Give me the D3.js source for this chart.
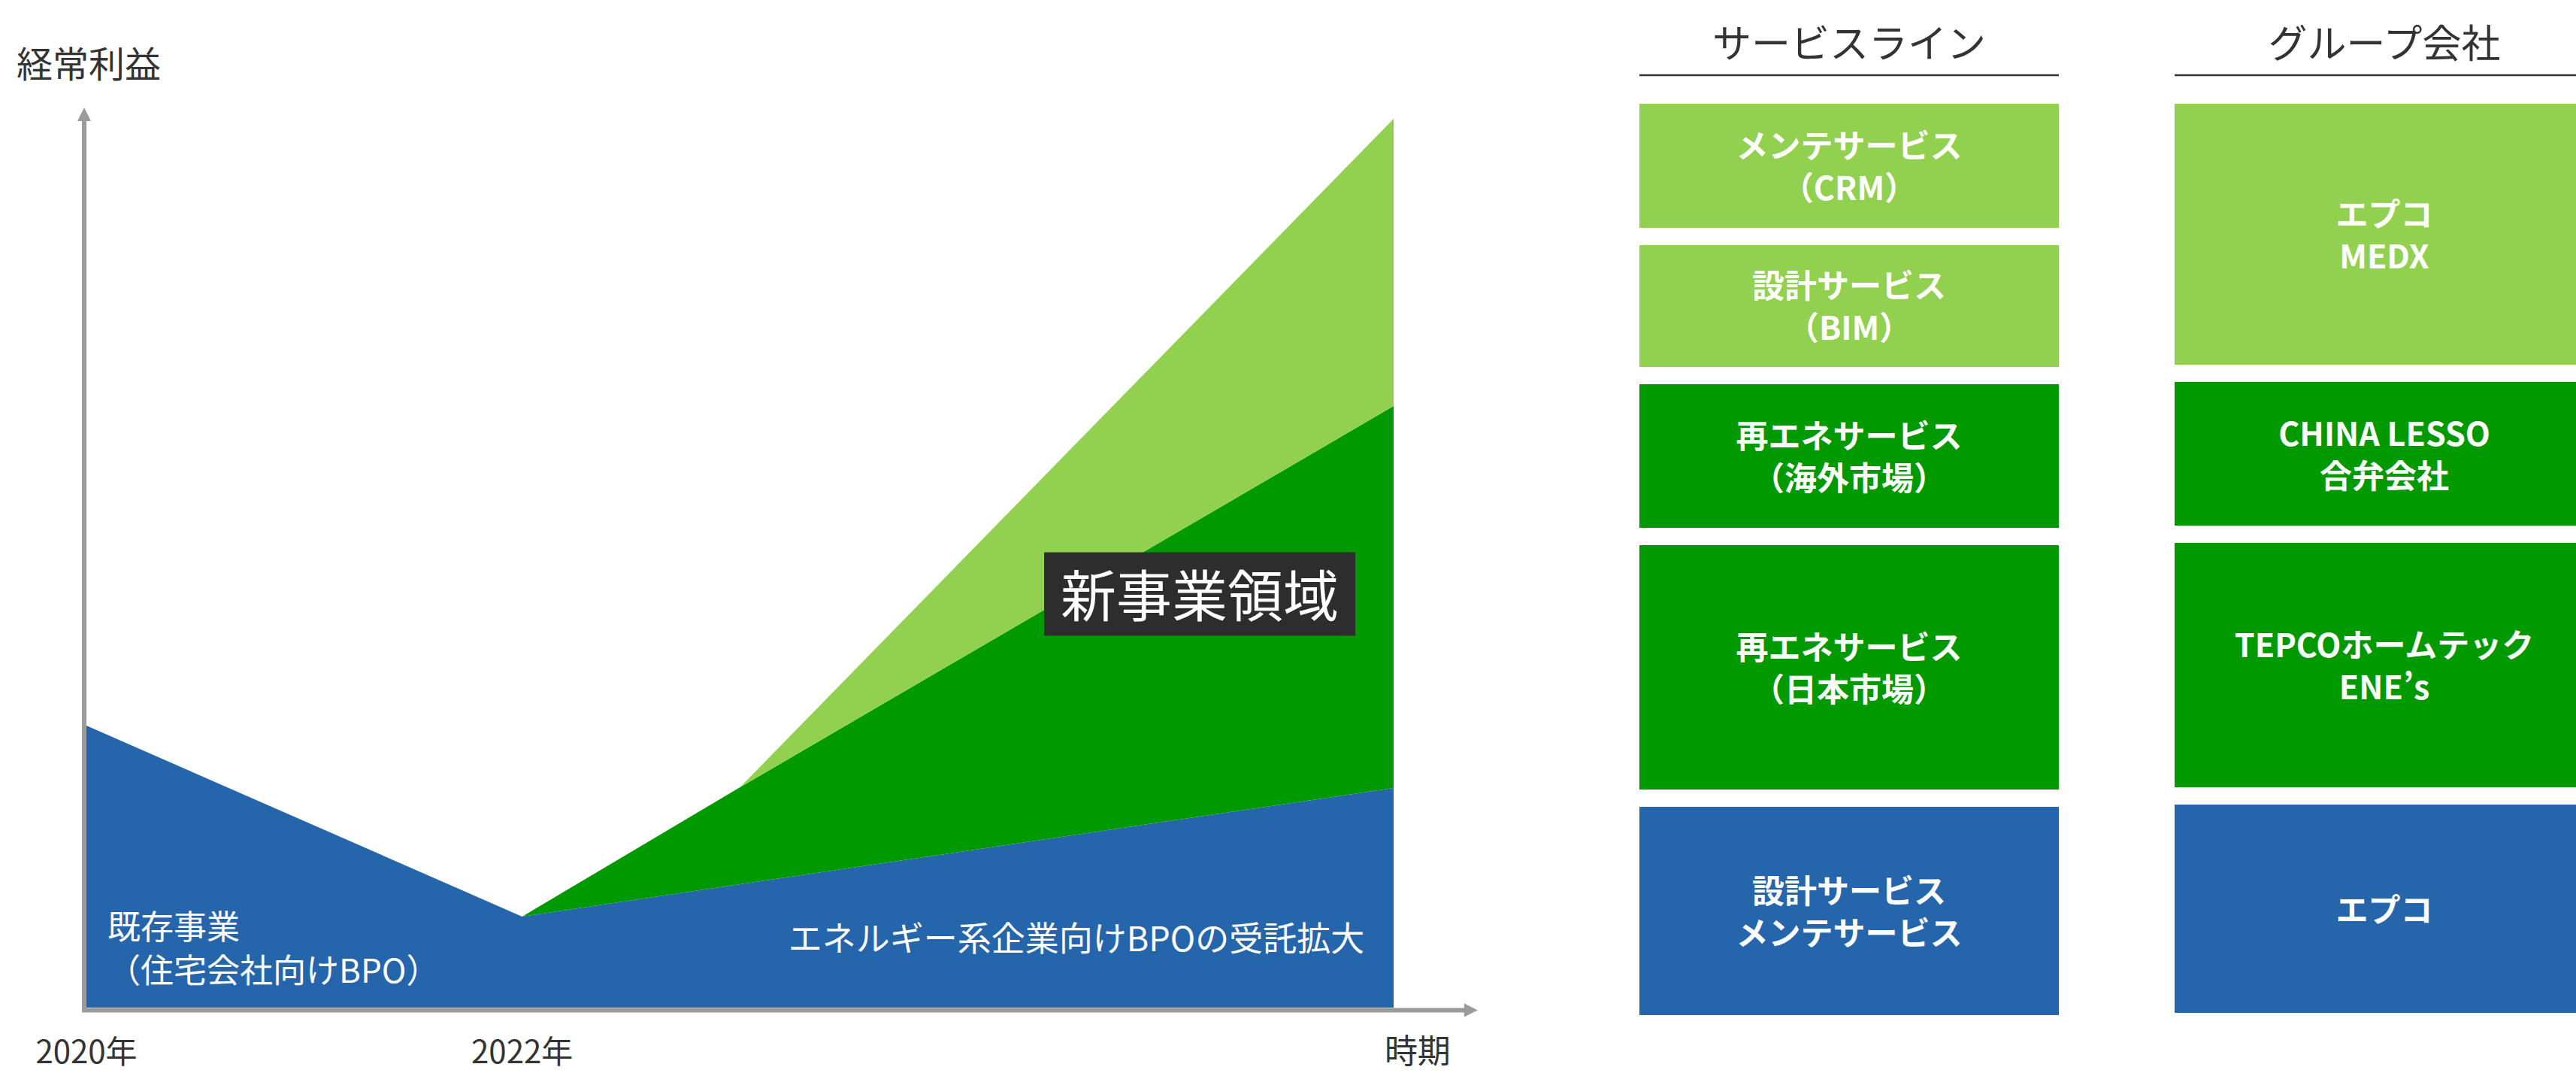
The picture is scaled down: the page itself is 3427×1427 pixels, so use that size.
<!DOCTYPE html>
<html lang="ja">
<head>
<meta charset="UTF-8">
<title>経常利益の推移イメージ</title>
<script src="https://cdn.jsdelivr.net/npm/d3@7"></script>
<style>
  body { margin: 0; background: #fff; }
  svg { display: block; font-family: "Noto Sans CJK JP", "Noto Sans", sans-serif; }
  .axis-line { stroke: #9b9b9b; stroke-width: 6; fill: none; }
  .axis-head { fill: #9b9b9b; }
  .dark { fill: #333; }
  .box-text { fill: #fff; font-weight: 700; font-size: 43px; text-anchor: middle; }
</style>
</head>
<body>
<svg id="chart" width="3427" height="1427"></svg>
<script>
// ---- left chart data (profit units) ----
var years      = [2020, 2022, 2023, 2026];
var existing   = [37.5, 12.1, 16.4, 29.2];   // 既存事業 + エネルギー系BPO
var renewable  = [0, 0, 12.9, 50.8];         // 再エネサービス
var newLines   = [0, 0, 0, 38.2];            // メンテ / 設計サービス
var seriesKeys = ["existing", "renewable", "newLines"];
var tickYears  = [2020, 2022];
var tickLabels = ["2020年", "2022年"];
var yTitle = "経常利益";
var xTitle = "時期";

// annotation texts, placed in data units
var labelExisting = ["既存事業", "（住宅会社向けBPO）"];
var labelEnergy = "エネルギー系企業向けBPOの受託拡大";
var labelNew = "新事業領域";

// ---- right panel data ----
var colHeads = ["サービスライン", "グループ会社"];
var serviceLabels = [["メンテサービス", "（CRM）"], ["設計サービス", "（BIM）"],
                     ["再エネサービス", "（海外市場）"], ["再エネサービス", "（日本市場）"],
                     ["設計サービス", "メンテサービス"]];
var serviceSizes = [16.5, 16.2, 19.1, 32.5, 27.7];
var serviceKinds = ["newLines", "newLines", "renewable", "renewable", "existing"];
var groupLabels = [["エプコ", "MEDX"], ["CHINA LESSO", "合弁会社"],
                   ["TEPCOホームテック", "ENE’s"], ["エプコ"]];
var groupSizes = [34.7, 19.1, 32.5, 27.7];
var groupKinds = ["newLines", "renewable", "renewable", "existing"];

var color = d3.scaleOrdinal().domain(seriesKeys).range(["#2565ab", "#009900", "#92d050"]);

var svg = d3.select("#chart");

//------------------------------------------------------------------
// scales
var x = d3.scaleLinear().domain([2020, 2026]).range([115, 1854]);
var y = d3.scaleLinear().domain([0, 120]).range([1340, 140]);
var xEnd = 2026.386, yEnd = 119.7;

//------------------------------------------------------------------
// stacked areas
var table = years.map(function (yr, i) {
  return { year: yr, existing: existing[i], renewable: renewable[i], newLines: newLines[i] };
});
var stacked = d3.stack().keys(seriesKeys)(table);

var area = d3.area()
  .x(function (d) { return x(d.data.year); })
  .y0(function (d) { return y(d[0]); })
  .y1(function (d) { return y(d[1]); });

svg.append("g").selectAll("path")
  .data(stacked)
  .enter().append("path")
  .attr("fill", function (d) { return color(d.key); })
  .attr("d", function (layer) {
    // drop leading points where the layer has not started yet
    var pts = layer.filter(function (d, j) {
      var v = d[1] - d[0];
      var next = layer[j + 1] ? layer[j + 1][1] - layer[j + 1][0] : 0;
      return v > 0 || next > 0;
    });
    return area(pts);
  });

//------------------------------------------------------------------
// axes with arrow heads
var ax = svg.append("g");
ax.append("line").attr("class", "axis-line")
  .attr("x1", x(2020) - 3).attr("x2", x(2020) - 3)
  .attr("y1", y(0) + 6).attr("y2", y(yEnd) + 17);
ax.append("path").attr("class", "axis-head")
  .attr("d", "M" + (x(2020) - 3) + "," + y(yEnd) + "l9,18h-18z");
ax.append("line").attr("class", "axis-line")
  .attr("x1", x(2020) - 6).attr("x2", x(xEnd) - 17)
  .attr("y1", y(0) + 3.5).attr("y2", y(0) + 3.5);
ax.append("path").attr("class", "axis-head")
  .attr("d", "M" + x(xEnd) + "," + (y(0) + 3.5) + "l-18,-9v18z");

ax.selectAll("text.tick")
  .data(tickYears)
  .enter().append("text")
  .attr("class", "tick dark")
  .attr("x", function (d) { return x(d); })
  .attr("y", y(0) + 74)
  .attr("text-anchor", "middle")
  .attr("font-size", 42)
  .text(function (d, i) { return tickLabels[i]; });

ax.append("text").attr("class", "dark")
  .attr("x", x(2026.11)).attr("y", y(0) + 74)
  .attr("text-anchor", "middle").attr("font-size", 44)
  .text(xTitle);

ax.append("text").attr("class", "dark")
  .attr("x", x(2020) - 93).attr("y", 103)
  .attr("font-size", 48)
  .text(yTitle);

//------------------------------------------------------------------
// labels inside the chart
svg.append("text")
  .attr("x", x(2020.097)).attr("y", y(9.1))
  .attr("fill", "#fff").attr("font-size", 44)
  .selectAll("tspan")
  .data(labelExisting)
  .enter().append("tspan")
  .attr("x", x(2020.097))
  .attr("dy", function (d, i) { return i ? 58 : 0; })
  .text(function (d) { return d; });

svg.append("text")
  .attr("x", x(2025.866)).attr("y", y(7.5))
  .attr("fill", "#fff").attr("font-size", 45)
  .attr("text-anchor", "end")
  .text(labelEnergy);

var nl = svg.append("g");
var nlText = nl.append("text")
  .attr("x", x(2025.11)).attr("y", y(55))
  .attr("dy", "0.4em")
  .attr("fill", "#fff").attr("font-size", 74)
  .attr("text-anchor", "middle")
  .text(labelNew);
var bb = nlText.node().getBBox();
nl.insert("rect", "text")
  .attr("x", bb.x - 22).attr("width", bb.width + 44)
  .attr("y", y(55) - 55.5).attr("height", 111)
  .attr("fill", "#2d2d2d");

//------------------------------------------------------------------
// right panel: service lines / group companies
var col = d3.scaleBand().domain(colHeads).range([2181, 3451]).paddingInner(0.2163);
var py = d3.scaleLinear().domain([0, 121.2]).range([138, 1350]);
var gap = 2.3;

function drawColumn(head, labels, sizes, kinds) {
  var g = svg.append("g");
  var x0 = col(head), w = col.bandwidth();
  g.append("text").attr("class", "dark")
    .attr("x", x0 + w / 2).attr("y", py(0) - 61)
    .attr("text-anchor", "middle").attr("font-size", 52)
    .text(head);
  g.append("line")
    .attr("x1", x0).attr("x2", x0 + w)
    .attr("y1", py(0) - 38).attr("y2", py(0) - 38)
    .attr("stroke", "#333").attr("stroke-width", 2.5);

  var start = 0;
  var boxes = sizes.map(function (s, i) {
    var b = { from: start, to: start + s, lines: labels[i], kind: kinds[i] };
    start += s + gap;
    return b;
  });

  var cell = g.selectAll("g.cell")
    .data(boxes)
    .enter().append("g").attr("class", "cell");
  cell.append("rect")
    .attr("x", x0).attr("width", w)
    .attr("y", function (d) { return py(d.from); })
    .attr("height", function (d) { return py(d.to) - py(d.from); })
    .attr("fill", function (d) { return color(d.kind); });
  cell.append("text").attr("class", "box-text")
    .selectAll("tspan")
    .data(function (d) {
      var mid = (py(d.from) + py(d.to)) / 2, n = d.lines.length;
      return d.lines.map(function (t, k) { return { t: t, cy: mid + (k - (n - 1) / 2) * 56 }; });
    })
    .enter().append("tspan")
    .attr("x", x0 + w / 2)
    .attr("y", function (d) { return d.cy; })
    .attr("dy", "0.4em")
    .text(function (d) { return d.t; });
}

drawColumn(colHeads[0], serviceLabels, serviceSizes, serviceKinds);
drawColumn(colHeads[1], groupLabels, groupSizes, groupKinds);
</script>
</body>
</html>
